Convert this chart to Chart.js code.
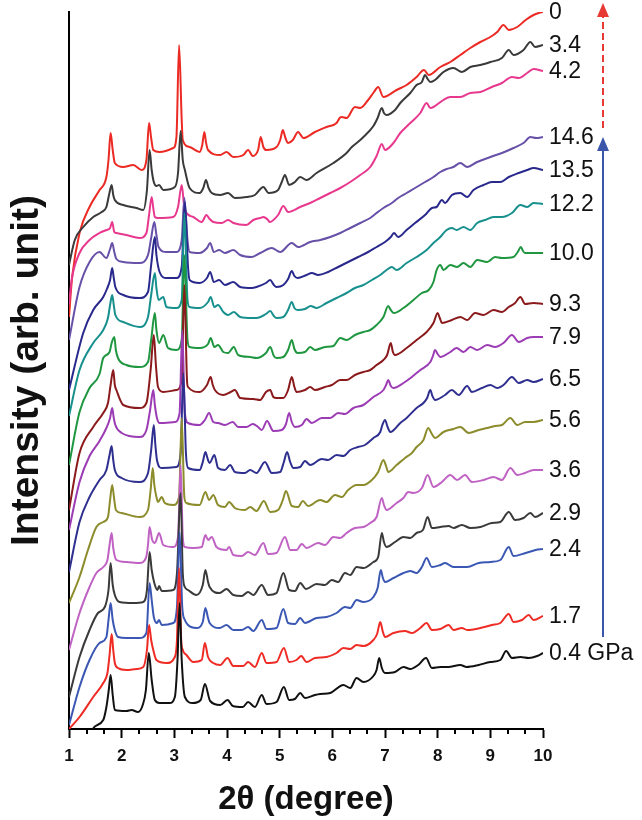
<!DOCTYPE html>
<html>
<head>
<meta charset="utf-8">
<script src="https://cdn.jsdelivr.net/npm/chart.js@4.4.1/dist/chart.umd.min.js"></script>
<style>
  html, body { margin: 0; padding: 0; background: #fff; }
  canvas { display: block; }
</style>
</head>
<body>
<canvas id="xrd" width="642" height="820"></canvas>
<script>
// curves listed bottom -> top (stack order in the figure)
const pressures = ['0.4 GPa', '1.7', '2.4', '2.9', '3.6', '5.6', '6.5', '7.9', '9.3', '10.0', '12.2', '13.5', '14.6', '4.2', '3.4', '0'];
const lineColors = ['#111111', '#ee2b24', '#3a57b3', '#3a3a3a', '#c062c3', '#8c8c2c', '#2e2f8f', '#9c3cb4',
                    '#8b1a1c', '#1f9640', '#17908e', '#29298d', '#6750a8', '#e8388e', '#3a3a3a', '#ec2a24'];

// [2theta, intensity] pairs, stacking offset included
const p04 = [[1.40,-10],[1.45,0],[1.65,9],[1.71,22],[1.755,39],[1.79,54],[1.83,34],[1.87,19],[2.09,18],[2.19,19],[2.31,17],[2.40,24],[2.46,39],[2.515,76],[2.57,49],[2.63,29],[2.72,26],[2.91,26],[3.01,32],[3.06,69],[3.10,126],[3.14,69],[3.20,32],[3.35,26],[3.50,29],[3.58,45],[3.68,28],[3.87,24],[4.01,29],[4.11,23],[4.30,22],[4.40,27],[4.53,22],[4.66,34],[4.75,25],[4.94,27],[5.08,42],[5.18,29],[5.29,30],[5.39,36],[5.48,31],[5.67,34],[5.77,35],[5.96,36],[6.21,44],[6.34,41],[6.46,51],[6.59,47],[6.78,53],[6.84,59],[6.89,71],[6.94,61],[7.00,56],[7.19,57],[7.35,62],[7.48,60],[7.63,64],[7.78,71],[7.89,61],[8.05,62],[8.20,62],[8.43,64],[8.55,62],[8.78,64],[9.00,67],[9.19,69],[9.30,78],[9.41,71],[9.57,72],[9.73,71],[9.89,73],[10.0,76]];
const p17 = [[1.0,0],[1.20,12],[1.46,32],[1.65,46],[1.73,56],[1.77,74],[1.81,95],[1.84,79],[1.87,66],[1.93,61],[2.09,59],[2.28,60],[2.41,62],[2.48,79],[2.52,104],[2.56,89],[2.60,79],[2.66,69],[2.85,66],[3.01,72],[3.05,89],[3.09,161],[3.13,89],[3.16,79],[3.23,74],[3.36,67],[3.52,69],[3.58,86],[3.64,72],[3.74,66],[3.87,64],[4.01,71],[4.12,63],[4.31,63],[4.40,67],[4.53,62],[4.66,76],[4.75,66],[4.94,67],[5.08,81],[5.18,67],[5.32,69],[5.41,73],[5.51,67],[5.67,71],[5.89,72],[6.08,76],[6.21,81],[6.34,80],[6.46,84],[6.59,83],[6.78,89],[6.85,95],[6.91,107],[6.96,97],[7.00,92],[7.16,96],[7.38,98],[7.51,96],[7.67,101],[7.79,106],[7.89,99],[8.05,100],[8.21,104],[8.30,99],[8.46,101],[8.56,99],[8.81,101],[9.03,104],[9.19,106],[9.35,115],[9.44,107],[9.60,109],[9.73,114],[9.82,109],[10.0,113]];
const p24 = [[1.0,4],[1.20,42],[1.39,69],[1.58,86],[1.71,92],[1.75,109],[1.79,126],[1.83,109],[1.87,99],[1.93,92],[2.09,91],[2.34,91],[2.47,96],[2.53,146],[2.57,129],[2.61,112],[2.67,106],[2.71,109],[2.76,104],[2.98,106],[3.05,122],[3.10,197],[3.15,122],[3.20,109],[3.26,104],[3.42,101],[3.54,107],[3.59,121],[3.64,111],[3.67,106],[3.86,101],[3.99,104],[4.12,99],[4.28,99],[4.40,102],[4.50,98],[4.66,109],[4.75,100],[4.94,101],[5.07,120],[5.16,106],[5.29,105],[5.39,111],[5.48,106],[5.70,111],[5.89,112],[6.08,116],[6.24,122],[6.34,121],[6.46,129],[6.59,127],[6.78,132],[6.86,141],[6.92,159],[6.96,151],[7.00,147],[7.16,151],[7.35,156],[7.48,158],[7.60,156],[7.70,162],[7.79,171],[7.89,162],[8.05,164],[8.14,166],[8.30,162],[8.56,162],[8.78,166],[9.00,167],[9.19,169],[9.35,182],[9.44,173],[9.67,176],[9.86,179],[10.0,180]];
const p29 = [[1.0,32],[1.20,72],[1.39,99],[1.55,116],[1.68,122],[1.75,139],[1.79,166],[1.83,144],[1.87,134],[1.96,127],[2.22,126],[2.41,127],[2.48,139],[2.53,177],[2.57,159],[2.62,146],[2.68,139],[2.71,143],[2.76,138],[2.98,139],[3.05,156],[3.12,236],[3.16,156],[3.20,142],[3.26,139],[3.42,134],[3.54,144],[3.59,159],[3.64,147],[3.67,142],[3.86,136],[3.99,140],[4.12,134],[4.28,133],[4.40,137],[4.50,134],[4.66,144],[4.78,134],[4.94,136],[5.07,156],[5.18,139],[5.29,138],[5.39,146],[5.50,140],[5.70,145],[5.86,144],[5.99,149],[6.11,147],[6.24,156],[6.34,154],[6.46,162],[6.59,161],[6.78,167],[6.87,172],[6.94,196],[6.98,187],[7.03,182],[7.19,187],[7.35,192],[7.48,191],[7.60,196],[7.72,199],[7.81,212],[7.89,201],[8.05,202],[8.21,203],[8.30,201],[8.46,204],[8.62,201],[8.81,202],[9.03,206],[9.19,207],[9.35,217],[9.47,209],[9.63,211],[9.76,216],[9.85,212],[10.0,216]];
const p36 = [[1.0,79],[1.20,116],[1.39,142],[1.52,156],[1.65,162],[1.73,169],[1.77,184],[1.81,196],[1.84,181],[1.90,169],[2.09,167],[2.34,166],[2.46,171],[2.50,184],[2.53,202],[2.58,189],[2.63,186],[2.71,196],[2.79,184],[2.98,182],[3.07,192],[3.12,264],[3.16,192],[3.20,182],[3.36,181],[3.52,182],[3.59,194],[3.64,189],[3.71,192],[3.80,182],[3.99,179],[4.04,182],[4.12,174],[4.28,173],[4.40,177],[4.53,174],[4.69,186],[4.78,175],[4.94,176],[5.10,192],[5.20,179],[5.32,179],[5.42,185],[5.51,181],[5.73,186],[5.86,184],[6.02,192],[6.15,191],[6.27,196],[6.43,201],[6.59,202],[6.72,206],[6.84,212],[6.94,231],[6.98,224],[7.03,219],[7.22,226],[7.35,231],[7.44,237],[7.54,236],[7.70,241],[7.81,254],[7.92,242],[8.08,247],[8.24,254],[8.37,249],[8.52,254],[8.65,247],[8.87,249],[9.06,252],[9.22,249],[9.38,261],[9.51,254],[9.66,256],[9.82,259],[10.0,259]];
const p56 = [[1.0,126],[1.20,152],[1.36,179],[1.52,202],[1.65,207],[1.74,212],[1.78,229],[1.82,244],[1.86,229],[1.89,219],[2.00,216],[2.34,212],[2.50,219],[2.55,239],[2.59,261],[2.62,244],[2.66,232],[2.69,227],[2.76,232],[2.82,226],[2.98,224],[3.09,232],[3.14,311],[3.19,232],[3.23,226],[3.48,224],[3.59,237],[3.66,229],[3.74,234],[3.83,224],[3.96,222],[4.04,227],[4.15,221],[4.34,219],[4.44,222],[4.56,218],[4.70,228],[4.82,217],[4.97,219],[5.06,229],[5.12,238],[5.23,223],[5.35,222],[5.44,228],[5.54,223],[5.77,229],[5.89,227],[6.05,234],[6.18,232],[6.30,239],[6.46,244],[6.59,244],[6.75,249],[6.87,257],[6.97,269],[7.02,263],[7.06,257],[7.22,264],[7.38,271],[7.51,276],[7.60,282],[7.73,289],[7.82,301],[7.89,295],[7.95,291],[8.11,297],[8.30,300],[8.43,302],[8.59,296],[8.78,299],[8.94,301],[9.09,303],[9.22,304],[9.38,311],[9.51,304],[9.66,307],[9.82,307],[10.0,309]];
const p65 = [[1.0,157],[1.20,207],[1.39,232],[1.58,249],[1.71,259],[1.77,274],[1.81,283],[1.84,269],[1.87,259],[2.00,251],[2.34,247],[2.50,256],[2.56,279],[2.61,304],[2.64,284],[2.67,269],[2.76,261],[3.04,262],[3.12,276],[3.17,356],[3.22,276],[3.26,261],[3.48,259],[3.54,267],[3.59,277],[3.64,269],[3.67,266],[3.76,274],[3.83,261],[3.96,259],[4.06,264],[4.15,257],[4.34,256],[4.44,259],[4.56,256],[4.72,267],[4.85,256],[5.01,257],[5.08,267],[5.14,277],[5.20,267],[5.26,261],[5.39,262],[5.48,268],[5.58,264],[5.80,270],[5.92,269],[6.08,274],[6.21,273],[6.34,279],[6.49,282],[6.62,284],[6.78,291],[6.91,297],[6.95,304],[7.00,309],[7.05,302],[7.10,297],[7.29,306],[7.41,311],[7.60,321],[7.73,326],[7.80,331],[7.86,339],[7.90,333],[7.95,329],[8.14,334],[8.27,339],[8.40,334],[8.56,343],[8.65,337],[8.84,341],[9.00,344],[9.13,341],[9.25,344],[9.41,352],[9.54,346],[9.70,349],[9.82,347],[10.0,350]];
const p79 = [[1.0,199],[1.20,247],[1.39,273],[1.58,288],[1.71,301],[1.78,311],[1.82,321],[1.85,311],[1.88,304],[2.00,296],[2.34,292],[2.47,299],[2.54,319],[2.60,339],[2.63,324],[2.67,311],[2.72,306],[3.01,307],[3.10,316],[3.15,399],[3.20,316],[3.26,306],[3.48,304],[3.58,309],[3.66,316],[3.74,307],[3.83,306],[3.96,304],[4.11,307],[4.21,302],[4.37,302],[4.49,305],[4.59,302],[4.66,299],[4.76,308],[4.88,298],[5.04,299],[5.12,305],[5.18,316],[5.23,307],[5.29,302],[5.42,304],[5.51,310],[5.61,306],[5.80,311],[5.96,311],[6.11,316],[6.24,315],[6.40,321],[6.59,324],[6.78,332],[6.97,339],[7.02,344],[7.06,349],[7.11,343],[7.16,341],[7.35,346],[7.51,352],[7.67,359],[7.86,367],[7.91,373],[7.95,379],[8.00,375],[8.05,372],[8.24,377],[8.36,381],[8.49,377],[8.62,382],[8.75,379],[8.94,384],[9.09,382],[9.25,386],[9.41,394],[9.54,387],[9.70,391],[9.82,392],[10.0,392]];
const p93 = [[1.0,219],[1.20,276],[1.46,302],[1.65,316],[1.74,326],[1.79,344],[1.84,359],[1.87,344],[1.90,339],[2.03,324],[2.34,321],[2.47,326],[2.55,359],[2.61,394],[2.65,364],[2.69,342],[2.79,337],[3.04,339],[3.14,349],[3.19,444],[3.24,349],[3.26,342],[3.48,337],[3.62,344],[3.69,352],[3.73,344],[3.77,339],[3.93,334],[4.07,337],[4.15,339],[4.25,331],[4.50,330],[4.63,329],[4.74,337],[4.82,339],[4.88,332],[4.94,331],[5.07,331],[5.16,339],[5.23,352],[5.28,342],[5.32,337],[5.48,339],[5.58,342],[5.67,339],[5.86,342],[5.99,344],[6.15,349],[6.27,349],[6.43,354],[6.59,357],[6.72,359],[6.84,364],[6.97,369],[7.04,374],[7.11,386],[7.15,377],[7.19,374],[7.41,381],[7.60,389],[7.79,397],[7.92,406],[8.00,416],[8.04,411],[8.08,406],[8.27,409],[8.43,412],[8.56,409],[8.71,416],[8.87,414],[9.06,419],[9.22,417],[9.35,422],[9.47,426],[9.57,432],[9.66,425],[9.82,426],[10.0,425]];
const p100 = [[1.0,264],[1.20,317],[1.39,341],[1.58,355],[1.65,371],[1.77,377],[1.81,386],[1.86,392],[1.89,379],[1.93,371],[2.09,364],[2.34,362],[2.50,367],[2.56,389],[2.63,416],[2.66,399],[2.71,386],[2.79,394],[2.88,381],[3.04,379],[3.14,389],[3.19,474],[3.25,389],[3.29,382],[3.48,381],[3.64,385],[3.69,391],[3.76,382],[3.83,384],[3.93,377],[4.02,376],[4.13,382],[4.21,374],[4.44,372],[4.56,371],[4.74,376],[4.82,382],[4.89,373],[4.94,371],[5.07,372],[5.16,379],[5.23,389],[5.28,380],[5.34,376],[5.48,377],[5.58,382],[5.67,379],[5.86,382],[6.02,383],[6.15,391],[6.27,389],[6.43,394],[6.59,397],[6.72,399],[6.84,404],[6.97,412],[7.06,423],[7.11,419],[7.17,416],[7.35,421],[7.54,429],[7.70,436],[7.83,439],[7.92,447],[7.98,459],[8.05,464],[8.11,459],[8.24,464],[8.37,462],[8.49,466],[8.62,462],[8.75,469],[8.94,467],[9.09,472],[9.22,471],[9.44,472],[9.52,477],[9.58,482],[9.62,478],[9.66,476],[9.82,476],[10.0,476]];
const p122 = [[1.0,313],[1.20,359],[1.46,386],[1.65,399],[1.74,411],[1.78,424],[1.82,434],[1.85,424],[1.88,414],[2.03,407],[2.34,402],[2.50,412],[2.56,434],[2.63,456],[2.66,441],[2.70,429],[2.79,432],[2.85,422],[3.04,421],[3.14,429],[3.19,516],[3.25,429],[3.29,422],[3.48,421],[3.64,427],[3.69,432],[3.76,422],[3.83,424],[3.93,417],[4.02,414],[4.13,417],[4.25,412],[4.47,411],[4.56,411],[4.74,415],[4.82,418],[4.89,413],[4.94,411],[5.07,412],[5.16,419],[5.23,427],[5.28,421],[5.34,419],[5.48,420],[5.59,423],[5.70,421],[5.89,426],[6.08,431],[6.27,436],[6.43,441],[6.59,444],[6.75,449],[6.91,454],[7.03,459],[7.13,462],[7.22,459],[7.41,466],[7.60,472],[7.79,479],[7.92,486],[8.05,492],[8.17,499],[8.27,501],[8.36,499],[8.49,502],[8.62,499],[8.75,506],[8.90,509],[9.06,512],[9.22,512],[9.41,516],[9.57,524],[9.70,522],[9.82,526],[10.0,525]];
const p135 = [[1.0,339],[1.27,396],[1.46,419],[1.65,432],[1.72,440],[1.78,449],[1.82,461],[1.85,451],[1.88,442],[2.03,434],[2.34,431],[2.50,437],[2.56,464],[2.63,492],[2.66,474],[2.72,457],[2.85,451],[3.04,451],[3.14,462],[3.20,527],[3.26,462],[3.29,449],[3.48,446],[3.62,451],[3.68,457],[3.75,447],[3.85,449],[3.96,444],[4.12,447],[4.25,442],[4.47,441],[4.56,442],[4.74,446],[4.82,449],[4.89,444],[4.94,442],[5.07,444],[5.16,450],[5.23,458],[5.28,453],[5.34,451],[5.51,454],[5.61,456],[5.73,454],[5.92,457],[6.11,462],[6.30,467],[6.49,472],[6.68,477],[6.84,482],[7.00,487],[7.11,492],[7.17,496],[7.25,492],[7.41,499],[7.57,506],[7.76,514],[7.89,521],[7.98,522],[8.08,529],[8.14,526],[8.27,534],[8.43,536],[8.56,532],[8.68,539],[8.87,544],[9.03,547],[9.19,547],[9.35,552],[9.54,556],[9.70,559],[9.82,561],[10.0,559]];
const p146 = [[1.0,389],[1.20,442],[1.39,467],[1.58,477],[1.71,471],[1.78,480],[1.82,486],[1.86,477],[1.90,470],[2.03,467],[2.34,466],[2.50,474],[2.56,491],[2.62,507],[2.66,494],[2.70,482],[2.85,477],[3.04,477],[3.14,489],[3.19,531],[3.25,489],[3.29,477],[3.48,476],[3.62,481],[3.68,486],[3.75,477],[3.85,479],[3.96,476],[4.12,479],[4.25,474],[4.47,472],[4.63,476],[4.85,481],[5.01,477],[5.23,486],[5.35,482],[5.58,487],[5.77,489],[5.96,492],[6.15,496],[6.34,501],[6.53,506],[6.72,511],[6.84,516],[6.97,521],[7.13,526],[7.25,531],[7.41,536],[7.57,541],[7.76,547],[7.92,552],[8.05,557],[8.17,560],[8.30,562],[8.43,566],[8.56,562],[8.75,567],[9.00,572],[9.22,576],[9.44,581],[9.63,586],[9.76,592],[9.87,591],[10.0,592]];
const p42 = [[1.0,424],[1.05,449],[1.20,476],[1.39,489],[1.58,496],[1.71,499],[1.78,501],[1.82,507],[1.86,497],[1.90,496],[2.09,494],[2.34,491],[2.47,496],[2.52,514],[2.57,532],[2.60,521],[2.63,512],[2.69,511],[2.98,512],[3.07,522],[3.14,544],[3.18,526],[3.20,519],[3.36,512],[3.52,507],[3.61,514],[3.67,510],[3.74,507],[3.90,506],[4.02,509],[4.12,506],[4.37,504],[4.50,509],[4.63,511],[4.69,512],[4.78,509],[4.81,507],[4.97,514],[5.07,523],[5.16,517],[5.39,522],[5.58,526],[5.77,531],[5.96,536],[6.15,541],[6.34,547],[6.53,554],[6.72,562],[6.84,573],[6.94,585],[7.00,579],[7.16,586],[7.29,596],[7.48,606],[7.67,616],[7.79,626],[7.86,621],[7.92,622],[8.11,629],[8.24,632],[8.43,632],[8.62,636],[8.81,637],[9.03,642],[9.22,646],[9.41,652],[9.54,651],[9.70,656],[9.82,660],[10.0,658]];
const p34 = [[1.0,464],[1.11,489],[1.27,502],[1.46,512],[1.62,517],[1.71,522],[1.76,534],[1.81,544],[1.84,534],[1.87,529],[2.03,524],[2.28,521],[2.41,519],[2.48,539],[2.53,579],[2.57,559],[2.61,547],[2.66,543],[2.71,544],[2.79,539],[3.01,542],[3.07,556],[3.12,598],[3.16,569],[3.20,559],[3.29,541],[3.48,536],[3.55,541],[3.60,549],[3.65,541],[3.71,536],[3.87,534],[4.02,536],[4.15,531],[4.37,532],[4.53,534],[4.69,542],[4.79,536],[4.97,539],[5.04,547],[5.10,554],[5.18,544],[5.29,547],[5.39,552],[5.51,549],[5.70,556],[6.02,566],[6.27,576],[6.37,582],[6.53,589],[6.59,592],[6.78,603],[6.86,611],[6.94,621],[6.98,616],[7.03,614],[7.19,619],[7.29,626],[7.48,636],[7.60,644],[7.70,647],[7.76,654],[7.81,650],[7.86,647],[7.95,649],[8.11,657],[8.30,661],[8.46,657],[8.62,662],[8.81,664],[9.00,667],[9.22,671],[9.35,679],[9.44,674],[9.63,679],[9.76,687],[9.85,682],[10.0,684]];
const p0 = [[1.0,412],[1.06,452],[1.20,496],[1.39,522],[1.58,539],[1.71,552],[1.75,569],[1.79,596],[1.83,579],[1.87,566],[2.03,562],[2.22,564],[2.38,559],[2.47,569],[2.52,606],[2.56,591],[2.60,579],[2.72,577],[2.98,581],[3.04,592],[3.09,684],[3.14,609],[3.16,589],[3.29,582],[3.48,577],[3.53,584],[3.57,597],[3.60,587],[3.64,579],[3.87,574],[3.99,577],[4.12,572],[4.31,574],[4.40,579],[4.49,573],[4.59,579],[4.64,592],[4.69,582],[4.75,579],[4.94,582],[5.01,589],[5.06,599],[5.11,591],[5.16,586],[5.25,589],[5.35,597],[5.40,594],[5.45,591],[5.67,597],[5.89,602],[6.08,606],[6.14,611],[6.18,612],[6.27,611],[6.43,622],[6.53,621],[6.68,629],[6.79,637],[6.87,642],[6.97,632],[7.22,639],[7.41,644],[7.60,652],[7.74,659],[7.83,654],[8.05,662],[8.24,667],[8.43,674],[8.62,681],[8.81,687],[9.00,692],[9.13,697],[9.25,704],[9.35,699],[9.51,702],[9.67,709],[9.82,714],[9.92,716],[10.0,717]];

const curves = [p04, p17, p24, p29, p36, p56, p65, p79, p93, p100, p122, p135, p146, p42, p34, p0];

const FONT = 'Arial, "Liberation Sans", Helvetica, sans-serif';

// minor ticks, pressure labels and the two arrows on the right
const extras = {
  id: 'extras',
  afterDraw(chart) {
    const ctx = chart.ctx;
    const xs = chart.scales.x, ys = chart.scales.y;
    const base = chart.chartArea.bottom;
    ctx.save();
    ctx.strokeStyle = '#000';
    ctx.lineWidth = 2;
    for (let v = xs.min; v < xs.max; v++) {
      for (const f of [1 / 3, 2 / 3]) {
        const px = Math.round(xs.getPixelForValue(v + f));
        ctx.beginPath();
        ctx.moveTo(px, base);
        ctx.lineTo(px, base + 5);
        ctx.stroke();
      }
    }
    // labels at the end of each curve
    ctx.fillStyle = '#111';
    ctx.font = '23px ' + FONT;
    ctx.textAlign = 'left';
    ctx.textBaseline = 'middle';
    const labelX = chart.chartArea.right + 6;
    const ends = curves.map(c => ys.getPixelForValue(c[c.length - 1][1]));
    pressures.forEach((p, i) => ctx.fillText(p, labelX, ends[i] + 1));

    // arrows
    const ax = chart.chartArea.right + 60;
    const blueTop = ends[12];
    const blueBottom = ends[0] - 16;
    const redTop = ends[15] - 9;
    const head = (tip, col) => {
      ctx.fillStyle = col;
      ctx.beginPath();
      ctx.moveTo(ax, tip);
      ctx.lineTo(ax - 6, tip + 14);
      ctx.lineTo(ax + 6, tip + 14);
      ctx.closePath();
      ctx.fill();
    };
    ctx.strokeStyle = '#3a55aa';
    ctx.lineWidth = 2;
    ctx.beginPath();
    ctx.moveTo(ax, blueBottom);
    ctx.lineTo(ax, blueTop + 12);
    ctx.stroke();
    head(blueTop, '#3a55aa');

    ctx.strokeStyle = '#e83a34';
    ctx.setLineDash([7, 4]);
    ctx.beginPath();
    ctx.moveTo(ax, blueTop - 9);
    ctx.lineTo(ax, redTop + 12);
    ctx.stroke();
    ctx.setLineDash([]);
    head(redTop, '#e83a34');
    ctx.restore();
  }
};

new Chart(document.getElementById('xrd'), {
  type: 'line',
  data: {
    datasets: curves.map((c, i) => ({
      label: pressures[i],
      data: c,
      borderColor: lineColors[i],
      borderWidth: 2,
      pointRadius: 0,
      cubicInterpolationMode: 'monotone',
      borderJoinStyle: 'round',
      fill: false
    }))
  },
  options: {
    responsive: false,
    animation: false,
    devicePixelRatio: 1,
    layout: { padding: { left: 0, right: 99, top: 12, bottom: 0 } },
    plugins: { legend: { display: false }, tooltip: { enabled: false } },
    scales: {
      x: {
        type: 'linear',
        min: 1,
        max: 10,
        afterFit(scale) { scale.height = 91; },
        border: { display: true, color: '#000', width: 2 },
        grid: { drawOnChartArea: false, drawTicks: true, tickLength: 9, tickWidth: 2, tickColor: '#000' },
        ticks: { stepSize: 1, padding: 8, color: '#111', font: { family: FONT, size: 17, weight: 'bold' } },
        title: { display: true, text: '2θ (degree)', color: '#111', padding: { top: 4, bottom: 0 },
                 font: { family: FONT, size: 33, weight: 'bold' } }
      },
      y: {
        type: 'linear',
        min: 0,
        max: 717,
        afterFit(scale) { scale.width = 69; },
        border: { display: true, color: '#000', width: 2 },
        grid: { display: false },
        ticks: { display: false },
        title: { display: true, text: 'Intensity (arb. unit)', color: '#111', padding: { top: 4, bottom: 0 },
                 font: { family: FONT, size: 39, weight: 'bold' } }
      }
    }
  },
  plugins: [extras]
});
</script>
</body>
</html>
